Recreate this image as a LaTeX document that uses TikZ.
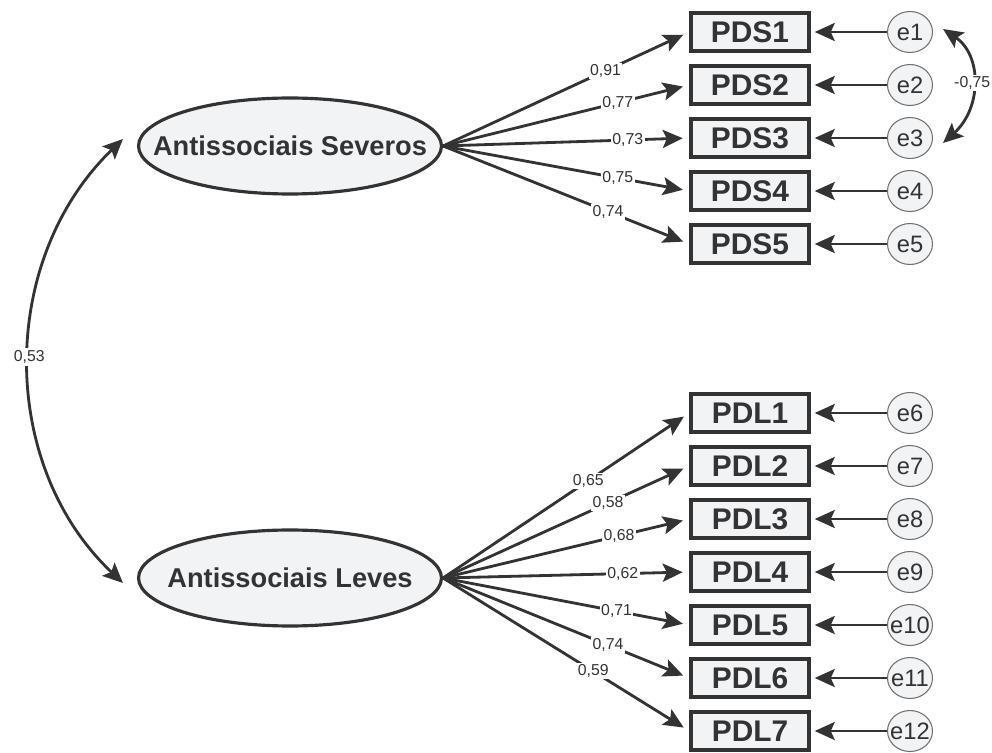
\documentclass[tikz,border=0pt]{standalone}
\usepackage{fontspec}
\setmainfont{Liberation Sans}
\usetikzlibrary{arrows.meta,positioning,shapes.geometric}
\definecolor{ink}{HTML}{333333}
\definecolor{shade}{HTML}{F2F3F5}
\definecolor{rim}{HTML}{707070}
\tikzset{
latent/.style={draw=ink,ellipse,fill=shade,line width=1.8pt,minimum width=6.06cm,minimum height=1.92cm,inner xsep=-.7cm,inner ysep=0pt,text=ink,font=\fontsize{15.5}{18}\selectfont\bfseries},
item/.style={draw=ink,fill=shade,line width=2pt,minimum width=2.36cm,minimum height=.76cm,inner sep=0pt,text=ink,font=\fontsize{17}{20}\selectfont\bfseries},
err/.style={draw=rim,ellipse,fill=shade,line width=.6pt,minimum width=.9cm,minimum height=.82cm,inner xsep=-.15cm,inner ysep=0pt,text=ink,font=\fontsize{13.5}{16}\selectfont},
coef/.style={fill=white,inner sep=.8pt,text=ink,font=\fontsize{9}{10}\selectfont},
arrow/.style={-{Stealth[length=4mm,width=3.6mm,inset=.8mm]},line width=1.6pt,draw=ink,shorten >=.13cm},
errarrow/.style={-{Stealth[length=4mm,width=3.6mm,inset=.8mm]},line width=1.6pt,draw=ink,shorten >=.08cm},
covarrow/.style={{Stealth[length=4mm,width=3.6mm,inset=.8mm]}-{Stealth[length=4mm,width=3.6mm,inset=.8mm]},line width=1.6pt,draw=ink}
}
\begin{document}
\begin{tikzpicture}[x=.02cm,y=-.02cm,node distance=.23cm and 1.525cm]
\useasboundingbox (0,0) rectangle (992,753);
% latent factors
\node[latent] (sev) at (290,146) {Antissociais Severos};
\node[latent] (lev) at (290,578) {Antissociais Leves};

% severe indicators
\node[item] (pds1) at (750,32) {PDS1};
\node[item,below=of pds1] (pds2) {PDS2};
\node[item,below=of pds2] (pds3) {PDS3};
\node[item,below=of pds3] (pds4) {PDS4};
\node[item,below=of pds4] (pds5) {PDS5};

% mild indicators
\node[item] (pdl1) at (750,413) {PDL1};
\node[item,below=of pdl1] (pdl2) {PDL2};
\node[item,below=of pdl2] (pdl3) {PDL3};
\node[item,below=of pdl3] (pdl4) {PDL4};
\node[item,below=of pdl4] (pdl5) {PDL5};
\node[item,below=of pdl5] (pdl6) {PDL6};
\node[item,below=of pdl6] (pdl7) {PDL7};

% errors
\node[err,right=of pds1] (e1) {e1};
\node[err,right=of pds2] (e2) {e2};
\node[err,right=of pds3] (e3) {e3};
\node[err,right=of pds4] (e4) {e4};
\node[err,right=of pds5] (e5) {e5};
\node[err,right=of pdl1] (e6) {e6};
\node[err,right=of pdl2] (e7) {e7};
\node[err,right=of pdl3] (e8) {e8};
\node[err,right=of pdl4] (e9) {e9};
\node[err,right=of pdl5] (e10) {e10};
\node[err,right=of pdl6] (e11) {e11};
\node[err,right=of pdl7] (e12) {e12};

% loadings
\draw[arrow](sev.east)--node[coef,pos=.66]{0,91}(pds1.west);
\draw[arrow](sev.east)--node[coef,pos=.71]{0,77}(pds2.west);
\draw[arrow](sev.east)--node[coef,pos=.75]{0,73}(pds3.west);
\draw[arrow](sev.east)--node[coef,pos=.71]{0,75}(pds4.west);
\draw[arrow](sev.east)--node[coef,pos=.67]{0,74}(pds5.west);
\draw[arrow](lev.east)--node[coef,pos=.59]{0,65}(pdl1.west);
\draw[arrow](lev.east)--node[coef,pos=.67]{0,58}(pdl2.west);
\draw[arrow](lev.east)--node[coef,pos=.715]{0,68}(pdl3.west);
\draw[arrow](lev.east)--node[coef,pos=.73]{0,62}(pdl4.west);
\draw[arrow](lev.east)--node[coef,pos=.705]{0,71}(pdl5.west);
\draw[arrow](lev.east)--node[coef,pos=.67]{0,74}(pdl6.west);
\draw[arrow](lev.east)--node[coef,pos=.61]{0,59}(pdl7.west);

% error paths
\draw[errarrow](e1.west)--(pds1.east);
\draw[errarrow](e2.west)--(pds2.east);
\draw[errarrow](e3.west)--(pds3.east);
\draw[errarrow](e4.west)--(pds4.east);
\draw[errarrow](e5.west)--(pds5.east);
\draw[errarrow](e6.west)--(pdl1.east);
\draw[errarrow](e7.west)--(pdl2.east);
\draw[errarrow](e8.west)--(pdl3.east);
\draw[errarrow](e9.west)--(pdl4.east);
\draw[errarrow](e10.west)--(pdl5.east);
\draw[errarrow](e11.west)--(pdl6.east);
\draw[errarrow](e12.west)--(pdl7.east);

% covariances
\coordinate (sevtip) at ([xshift=-.28cm,yshift=.14cm]sev.west);
\coordinate (levtip) at ([xshift=-.28cm,yshift=-.1cm]lev.west);
\draw[covarrow](sevtip) .. controls (-2,260) and (-2,465) .. node[coef,pos=.49,inner sep=1.5pt]{0,53} (levtip);
\coordinate (e1tip) at ([xshift=.2cm,yshift=.06cm]e1.east);
\coordinate (e3tip) at ([xshift=.2cm,yshift=-.1cm]e3.east);
\draw[covarrow](e1tip) .. controls (982,55) and (982,108) .. node[coef,pos=.5]{-0,75} (e3tip);
\end{tikzpicture}
\end{document}
